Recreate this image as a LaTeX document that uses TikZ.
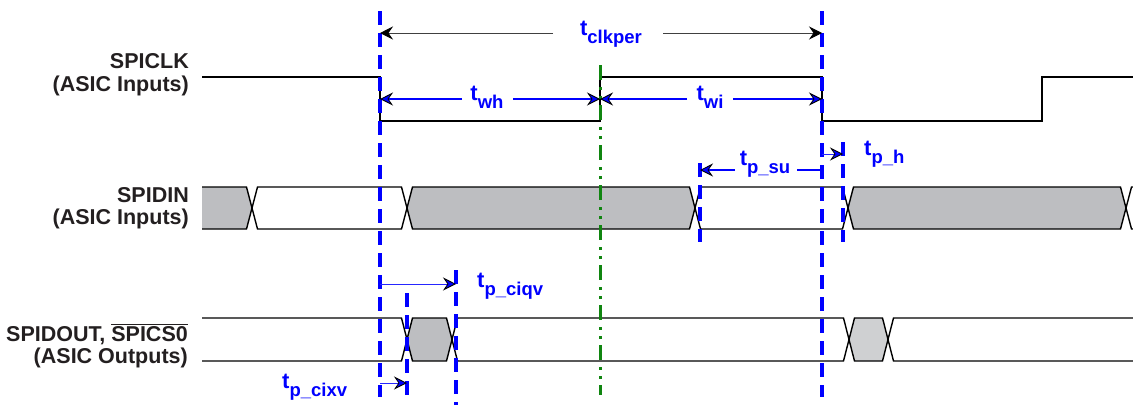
\documentclass[tikz,border=0pt]{standalone}
\usepackage{fontspec}
\setmainfont{Liberation Sans}
\usetikzlibrary{arrows.meta}
\definecolor{tiblue}{RGB}{0,0,255}
\definecolor{tigreen}{RGB}{16,133,16}
\definecolor{busgray}{RGB}{189,190,193}
\definecolor{busgraylt}{RGB}{207,208,210}
\definecolor{txtc}{RGB}{35,31,32}
\newcommand{\tlab}[1]{{\fontsize{22}{22}\selectfont t}\raisebox{-8pt}{\fontsize{18.5}{18.5}\selectfont #1}}
\newcommand{\busseg}[5]{\filldraw[sig, fill=#5] (#1,{(#3+#4)/2}) -- ({#1+5.5},#3) -- ({#2-5.5},#3) -- (#2,{(#3+#4)/2}) -- ({#2-5.5},#4) -- ({#1+5.5},#4) -- cycle;}
\tikzset{
  sig/.style={line width=1.4pt, draw=black, line join=miter},
  guide/.style={draw=tiblue, line width=3.6pt, dash pattern=on 14pt off 8pt},
  midline/.style={draw=tigreen, line width=3pt, dash pattern=on 15pt off 7pt on 2.5pt off 6.5pt on 2.5pt off 6.5pt},
  siglab/.style={font=\bfseries\fontsize{21.5}{23}\selectfont, text=txtc, inner sep=0pt, anchor=base east},
  tlabel/.style={font=\bfseries, text=tiblue, inner sep=0pt},
  dimk/.style={line width=1pt, draw=black!75, -{Stealth[length=13pt,width=13pt,inset=4.5pt,color=black]}},
  dimb/.style={line width=1.3pt, draw=tiblue, -{Stealth[length=13pt,width=13pt,inset=4.5pt,color=black,fill=tiblue,line width=0.8pt]}},
  dimbt/.style={line width=1pt, draw=tiblue!85, -{Stealth[length=13pt,width=13pt,inset=4.5pt,color=black,fill=tiblue,line width=0.8pt]}}
}
\begin{document}
\begin{tikzpicture}[x=1pt,y=-1pt]
\useasboundingbox (0,0) rectangle (1133,405);

% ---------- signal labels ----------
\node[siglab] (lclk) at (189,68) {SPICLK};
\node[siglab] (lclk2) at (189,91) {(ASIC Inputs)};
\node[siglab] (ldin) at (189,202) {SPIDIN};
\node[siglab] (ldin2) at (189,224) {(ASIC Inputs)};
\node[siglab] (ldout) at (188,341) {SPIDOUT, $\overline{\hbox{SPICS0}}$};
\node[siglab] (ldout2) at (188,363) {(ASIC Outputs)};

% ---------- SPICLK ----------
\draw[sig] (202,77) -- (380,77) -- (380,121) -- (600,121) -- (600,77) -- (822,77) -- (822,121) -- (1042,121) -- (1042,77) -- (1133,77);

% ---------- SPIDIN bus ----------
\fill[busgray] (202,187) -- (246.5,187) -- (252,208) -- (246.5,229) -- (202,229) -- cycle;
\draw[sig] (202,187) -- (246.5,187) -- (252,208) -- (246.5,229) -- (202,229);
\busseg{252}{407}{187}{229}{white}
\busseg{407}{695}{187}{229}{busgray}
\busseg{695}{848}{187}{229}{white}
\busseg{848}{1126}{187}{229}{busgray}
\draw[sig] (1133,187) -- (1131.5,187) -- (1126,208) -- (1131.5,229) -- (1133,229);

% ---------- SPIDOUT bus ----------
\draw[sig] (202,318) -- (401.5,318) -- (407,339.5) -- (401.5,361) -- (202,361);
\busseg{407}{452}{318}{361}{busgray}
\busseg{452}{849}{318}{361}{white}
\busseg{849}{888}{318}{361}{busgraylt}
\draw[sig] (1133,318) -- (893.5,318) -- (888,339.5) -- (893.5,361) -- (1133,361);

% ---------- guide lines ----------
\coordinate (g1t) at (380,11);  \coordinate (g1b) at (380,397);
\coordinate (g2t) at (822,11);  \coordinate (g2b) at (822,397);
\coordinate (gmt) at (600,65);  \coordinate (gmb) at (600,395);
\coordinate (g3t) at (700,163); \coordinate (g3b) at (700,242);
\coordinate (g4t) at (843,142); \coordinate (g4b) at (843,242);
\coordinate (g5t) at (456,270); \coordinate (g5b) at (456,405);
\coordinate (g6t) at (407,293); \coordinate (g6b) at (407,397);
\draw[guide] (g1t) -- (g1b);
\draw[guide] (g2t) -- (g2b);
\draw[midline] (gmt) -- (gmb);
\draw[guide] (g3t) -- (g3b);
\draw[guide] (g4t) -- (g4b);
\draw[guide] (g5t) -- (g5b);
\draw[guide] (g6t) -- (g6b);

% ---------- dimension arrows ----------
% t_clkper
\coordinate (ckA) at (380,33); \coordinate (ckB) at (822,33);
\coordinate (ckL) at (553,33); \coordinate (ckR) at (663,33);
\draw[dimk] (ckL) -- (ckA);
\draw[dimk] (ckR) -- (ckB);
\node[tlabel, anchor=base] (lck) at (611,35) {\tlab{clkper}};
% t_wh
\coordinate (whA) at (380,99); \coordinate (whB) at (600,99);
\coordinate (whL) at (462,99); \coordinate (whR) at (513,99);
\draw[dimb] (whL) -- (whA);
\draw[dimb] (whR) -- (whB);
\node[tlabel, anchor=base] (lwh) at (487,100) {\tlab{wh}};
% t_wi
\coordinate (wiA) at (600,99); \coordinate (wiB) at (822,99);
\coordinate (wiL) at (687,99); \coordinate (wiR) at (733,99);
\draw[dimb] (wiL) -- (wiA);
\draw[dimb] (wiR) -- (wiB);
\node[tlabel, anchor=base] (lwi) at (710,100) {\tlab{wi}};
% t_p_su
\coordinate (suA) at (700,170); \coordinate (suB) at (822,170);
\coordinate (suL) at (735,170); \coordinate (suR) at (797,170);
\draw[dimb] (suL) -- (suA);
\draw[line width=1.3pt, draw=tiblue] (suR) -- (suB);
\node[tlabel, anchor=base] (lsu) at (765,165) {\tlab{p\_su}};
% t_p_h
\coordinate (phA) at (822,154); \coordinate (phB) at (843,154);
\draw[dimbt] (phA) -- (phB);
\node[tlabel, anchor=base west] (lph) at (864,155) {\tlab{p\_h}};
% t_p_ciqv
\coordinate (cqA) at (380,284); \coordinate (cqB) at (456,284);
\draw[dimbt] (cqA) -- (cqB);
\node[tlabel, anchor=base west] (lcq) at (477,287) {\tlab{p\_ciqv}};
% t_p_cixv
\coordinate (cxA) at (380,383); \coordinate (cxB) at (407,383);
\draw[dimbt] (cxA) -- (cxB);
\node[tlabel, anchor=base west] (lcx) at (282,388) {\tlab{p\_cixv}};
\end{tikzpicture}
\end{document}
